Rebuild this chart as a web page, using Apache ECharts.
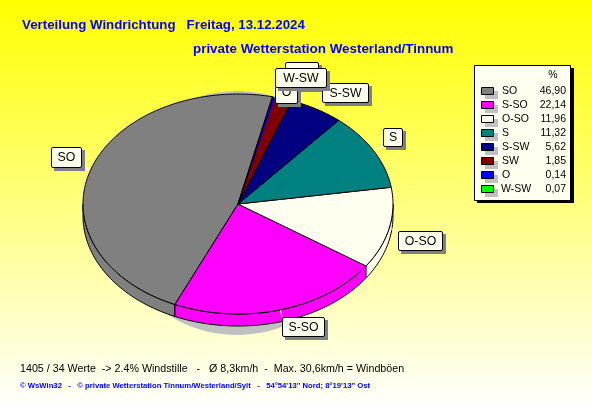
<!DOCTYPE html>
<html>
<head>
<meta charset="utf-8">
<style>html,body{margin:0;padding:0;background:#fff}#c{width:592px;height:407px}</style>
<script src="https://cdn.jsdelivr.net/npm/echarts@6/dist/echarts.min.js"></script>
</head>
<body>
<div id="c"></div>
<script>
// data
var categories = ['SO','S-SO','O-SO','S','S-SW','SW','O','W-SW'];
var values = [46.90,22.14,11.96,11.32,5.62,1.85,0.14,0.07];
var colors = ['#808080','#ff00ff','#fffff0','#008080','#000080','#800000','#0000ff','#00ff00'];
var titleText = 'Verteilung Windrichtung   Freitag, 13.12.2024';
var subTitleText = 'private Wetterstation Westerland/Tinnum';
var statsText = '1405 / 34 Werte  -> 2.4% Windstille   -   Ø 8,3km/h  -  Max. 30,6km/h = Windböen';
var creditText = '© WsWin32   -   © private Wetterstation Tinnum/Westerland/Sylt   -   54°54\'13\'\' Nord; 8°19\'13\'\' Ost';

// layout
var CX = 238, CY = 204, RX = 155, RY = 110, DEPTH = 12, START = 12.85;
var total = values.reduce(function(a,b){return a+b;},0);
var labelBoxes = [ // x, y, w, h of each slice's callout
  [51,147,30,20],[282,317,42,19],[398,231,44,19],[383,128,19,18],
  [322,83,46,19],[285,62,33,26],[275,81,22,22],[275,68,51,19]
];
function pt(deg, dy){
  var r = deg*Math.PI/180;
  return [CX+RX*Math.sin(r), CY-RY*Math.cos(r)+(dy||0)];
}
function sliceRange(i){
  var before = 0;
  for(var k=0;k<i;k++) before += values[k];
  var a0 = START - before/total*360;
  var a1 = a0 - values[i]/total*360;
  return [a0,a1]; // counter-clockwise from a0 down to a1
}
function arcPts(a0,a1,dy){
  var n = Math.max(2,Math.ceil(Math.abs(a0-a1)/1.5)), p=[];
  for(var j=0;j<=n;j++) p.push(pt(a0+(a1-a0)*j/n,dy));
  return p;
}
function wallPieces(a0,a1){
  // front half of the rim lies between 90 and 270 degrees
  var pieces=[];
  for(var base=-720;base<=360;base+=360){
    var lo=Math.max(a1,base+90), hi=Math.min(a0,base+270);
    if(hi>lo) pieces.push([hi,lo]);
  }
  return pieces;
}
var fmt = function(v){ return v.toFixed(2).replace('.',','); };

var graphics = [];
// pie shadow
graphics.push({type:'ellipse',z:1,silent:true,shape:{cx:237,cy:213,rx:125,ry:122},style:{fill:'#c0c0c0'}});

// title + footer
var F='"Liberation Sans",Arial,sans-serif';
function txt(x,y,t,font,fill,align,z){
  return {type:'text',x:x,y:y,z:z||20,silent:true,style:{text:t,font:font,fill:fill,align:align||'left',verticalAlign:'middle'}};
}
graphics.push(txt(22,25,titleText,'bold 13.3px '+F,'#0000ff'));
graphics.push(txt(193,49,subTitleText,'bold 13.4px '+F,'#0000ff'));
graphics.push(txt(20,369,statsText,'10.7px '+F,'#000'));
graphics.push(txt(20,386,creditText,'bold 7.7px '+F,'#0000ff'));

// legend
graphics.push({type:'rect',z:20,silent:true,shape:{x:477,y:68,width:97,height:135},style:{fill:'#000'}});
graphics.push({type:'rect',z:21,silent:true,shape:{x:474.5,y:65.5,width:96,height:135},style:{fill:'#fffff0',stroke:'#000',lineWidth:1}});
graphics.push(txt(553,75,'%','10.5px '+F,'#000','center',22));
categories.forEach(function(c,i){
  var y=91+i*14;
  graphics.push({type:'rect',z:22,silent:true,shape:{x:485,y:y-0,width:13,height:8},style:{fill:'#c0c0c0'}});
  graphics.push({type:'rect',z:23,silent:true,shape:{x:481.5,y:y-3.5,width:12,height:7},style:{fill:colors[i],stroke:'#000',lineWidth:1}});
  graphics.push(txt(c==='W-SW'?501:502,y,c,'10.5px '+F,'#000','left',23));
  graphics.push(txt(566,y,fmt(values[i]),'10.5px '+F,'#000','right',23));
});

// callouts with white leader lines
categories.forEach(function(c,i){
  var r=sliceRange(i), mid=(r[0]+r[1])/2, p=pt(mid), b=labelBoxes[i], z=30+i*3;
  var ex=Math.min(Math.max(p[0],b[0]),b[0]+b[2]), ey=Math.min(Math.max(p[1],b[1]),b[1]+b[3]);
  var sx=ex+(p[0]-ex)*0.9, sy=ey+(p[1]-ey)*0.9;
  graphics.push({type:'line',z:z,silent:true,shape:{x1:sx,y1:sy,x2:ex,y2:ey},style:{stroke:'#ffffff',lineWidth:1}});
  graphics.push({type:'rect',z:z,silent:true,shape:{x:b[0]+3,y:b[1]+3,width:b[2]+1,height:b[3]+1},style:{fill:'#808080'}});
  graphics.push({type:'rect',z:z+1,silent:true,shape:{x:b[0]+.5,y:b[1]+.5,width:b[2],height:b[3],r:1.5},style:{fill:'#fffff0',stroke:'#000',lineWidth:1}});
  graphics.push(txt(b[0]+b[2]/2+.5,b[1]+b[3]/2+1,c,'12.3px '+F,'#000','center',z+2));
});

var chart = echarts.init(document.getElementById('c'),null,{renderer:'canvas'});
chart.setOption({
  animation:false,
  backgroundColor:{type:'linear',x:0,y:0,x2:0,y2:1,colorStops:[{offset:0,color:'#ffff00'},{offset:1,color:'#ffffff'}]},
  graphic:{elements:graphics},
  series:[
    {type:'custom',coordinateSystem:'none',z:5,silent:true,
     data:values.map(function(v,i){return [v,i];}),
     renderItem:function(params,api){
       var i=api.value(1), r=sliceRange(i), kids=[];
       wallPieces(r[0],r[1]).forEach(function(w){
         var top=arcPts(w[0],w[1],0), bot=arcPts(w[1],w[0],DEPTH);
         kids.push({type:'polygon',shape:{points:top.concat(bot)},style:{fill:colors[i],stroke:'#000',lineWidth:1}});
       });
       return {type:'group',children:kids};
     }},
    {type:'custom',coordinateSystem:'none',z:6,silent:true,
     data:values.map(function(v,i){return [v,i];}),
     renderItem:function(params,api){
       var i=api.value(1), r=sliceRange(i), tiny=api.value(0)<0.5;
       var a0=r[0], a1=r[1];
       if(tiny && api.value(0)>0.1) a0+=0.4; // a pixel-wide sliver still has to show its colour
       var pts=[[CX,CY]].concat(arcPts(a0,a1,0));
       return {type:'polygon',shape:{points:pts},style:tiny&&api.value(0)>0.1
         ?{fill:colors[i]}
         :{fill:colors[i],stroke:'#000',lineWidth:1}};
     }}
  ]
});
</script>
</body>
</html>
